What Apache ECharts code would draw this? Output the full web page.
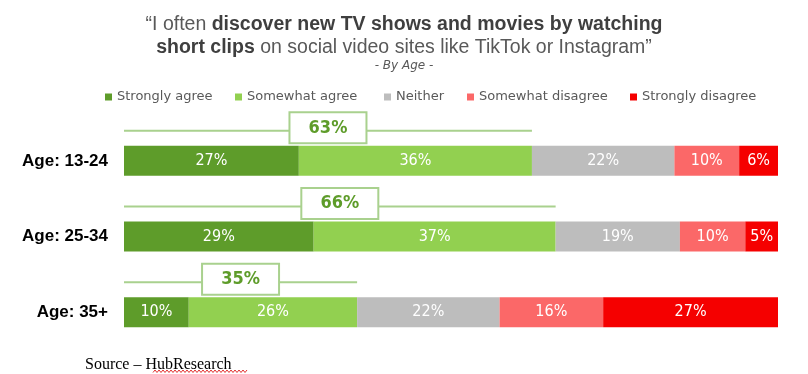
<!DOCTYPE html>
<html><head><meta charset="utf-8">
<script src="https://cdn.jsdelivr.net/npm/echarts@6/dist/echarts.min.js"></script>
<style>html,body{margin:0;padding:0;background:#fff}#c{width:808px;height:374px}</style>
</head><body><div id="c"></div>
<script>
const categories = ['Age: 13-24', 'Age: 25-34', 'Age: 35+'];
const seriesNames = ['Strongly agree', 'Somewhat agree', 'Neither', 'Somewhat disagree', 'Strongly disagree'];
const stronglyAgree = [27, 29, 10];
const somewhatAgree = [36, 37, 26];
const neither = [22, 19, 22];
const somewhatDisagree = [10, 10, 16];
const stronglyDisagree = [6, 5, 27];
const agreeTotals = [63, 66, 35];
const colors = ['#5e9c2a', '#92d050', '#bdbdbd', '#fb6868', '#f50000'];

const raw = [stronglyAgree, somewhatAgree, neither, somewhatDisagree, stronglyDisagree];
const rowSums = categories.map((c, i) => raw.reduce((s, a) => s + a[i], 0));
const norm = raw.map(a => a.map((v, i) => v * 100 / rowSums[i]));
const agreeEnd = categories.map((c, i) => norm[0][i] + norm[1][i]);

const labelFont = "'DejaVu Sans Condensed',sans-serif";
const barSeries = seriesNames.map((name, k) => ({
  name, type: 'bar', stack: 'all', barWidth: 30,
  itemStyle: { color: colors[k] },
  data: norm[k],
  label: {
    show: true, position: 'inside', color: '#ffffff', fontSize: 16,
    fontFamily: labelFont,
    formatter: p => raw[k][p.dataIndex] + '%'
  }
}));

const bracketSeries = {
  type: 'custom', silent: true, z: 5,
  data: categories.map((c, i) => [agreeEnd[i], i, agreeTotals[i]]),
  renderItem: (params, api) => {
    const idx = api.value(1);
    const p0 = api.coord([0, idx]);
    const p1 = api.coord([api.value(0), idx]);
    const yLine = p0[1] - 30;
    const cx = (p0[0] + p1[0]) / 2;
    const cy = p0[1] - 33;
    return {
      type: 'group',
      children: [
        { type: 'line', shape: { x1: p0[0], y1: yLine, x2: p1[0], y2: yLine },
          style: { stroke: '#a9d18e', lineWidth: 2 } },
        { type: 'rect', shape: { x: cx - 38.5, y: cy - 15.5, width: 77, height: 31 },
          style: { fill: '#ffffff', stroke: '#a9d18e', lineWidth: 2 } },
        { type: 'text', x: cx, y: cy,
          style: { text: api.value(2) + '%', fill: '#5e9c2a', font: "bold 18px 'DejaVu Sans Condensed', sans-serif",
                   align: 'center', verticalAlign: 'middle' } }
      ]
    };
  }
};

const legendLefts = [105, 235, 384, 467, 630];
const legends = seriesNames.map((n, k) => ({
  data: [n], left: legendLefts[k], top: 89, itemWidth: 7, itemHeight: 7, icon: 'rect',
  selectedMode: false, padding: 0,
  textStyle: { color: '#595959', fontSize: 13, fontFamily: "'DejaVu Sans', sans-serif", lineHeight: 16 }
}));

// decorative spell-check squiggle under "HubResearch"
const squiggle = [];
for (let x = 153, j = 0; x <= 247; x += 2, j++) squiggle.push([x, j % 2 ? 370 : 372.5]);

const titleFont = "'Liberation Sans', Arial, sans-serif";
const richT = {
  n: { fontSize: 19.5, color: '#595959', fontWeight: 'normal', fontFamily: titleFont, lineHeight: 24 },
  b: { fontSize: 19.5, color: '#3f3f3f', fontWeight: 'bold', fontFamily: titleFont, lineHeight: 24 }
};
const chart = echarts.init(document.getElementById('c'), null, { renderer: 'canvas' });
chart.setOption({
  animation: false,
  title: [
    { text: '{n|“I often }{b|discover new TV shows and movies by watching}', left: 'center', top: 13,
      padding: 0, textStyle: { fontWeight: 'normal', rich: richT } },
    { text: '{b|short clips}{n| on social video sites like TikTok or Instagram”}', left: 'center', top: 36,
      padding: 0, textStyle: { fontWeight: 'normal', rich: richT } },
    { text: '- By Age -', left: 'center', top: 60, padding: 0,
      textStyle: { fontSize: 12, fontStyle: 'italic', fontWeight: 'normal', color: '#595959', fontFamily: "'DejaVu Sans', sans-serif" } }
  ],
  legend: legends,
  grid: { left: 124, right: 30, top: 123, bottom: 24, containLabel: false },
  xAxis: { type: 'value', min: 0, max: 100, show: false },
  yAxis: {
    type: 'category', data: categories, inverse: true,
    axisLine: { show: false }, axisTick: { show: false }, splitLine: { show: false },
    axisLabel: { color: '#000', fontSize: 17, fontWeight: 'bold', margin: 16,
                 fontFamily: "'Liberation Sans', Arial, sans-serif" }
  },
  series: [...barSeries, bracketSeries],
  graphic: [
    { type: 'text', left: 85, top: 357,
      style: { text: 'Source – HubResearch', fill: '#000', font: "16px 'Liberation Serif', 'Times New Roman', serif" } },
    { type: 'polyline', shape: { points: squiggle }, style: { stroke: '#e03030', lineWidth: 1, fill: null } }
  ]
});
</script></body></html>
